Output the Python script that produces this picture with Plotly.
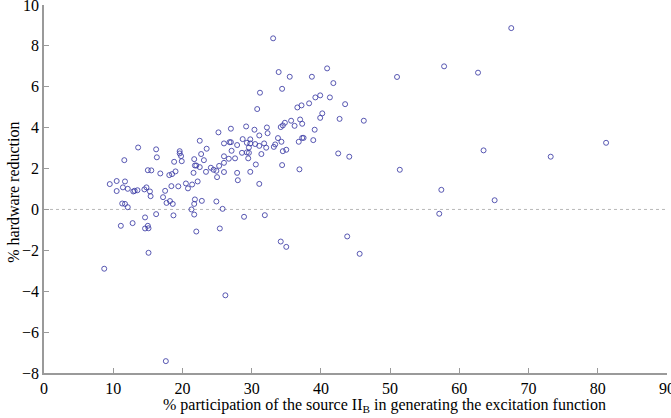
import plotly.graph_objects as go

participation = [
    67.5, 57.8, 62.7, 81.2, 63.5, 73.2, 51.4, 57.4, 65.1,
    33.1, 51.0, 33.9, 35.5, 38.7, 40.9, 41.8, 34.4, 31.2, 39.9, 39.2, 41.3, 38.3, 37.2, 36.6, 43.5,
    30.8, 40.2, 39.9, 42.7, 46.2, 35.7, 37.0, 37.3, 34.8, 34.5, 34.2, 36.2, 30.4, 32.2, 32.3, 39.1,
    31.1, 33.8, 37.3, 37.5, 38.9, 36.8, 34.3, 29.8, 29.8, 29.6, 31.1, 31.8, 32.1, 33.4, 33.2, 34.5,
    35.0, 31.4, 42.5, 44.1, 30.6, 34.4, 36.9, 29.8, 31.1, 31.9, 57.1,
    34.2, 35.0, 43.8, 45.6,
    29.2, 25.2, 27.0, 22.5, 26.8, 27.0, 28.7, 29.3, 30.5, 26.0, 27.9, 23.5, 13.6, 16.2, 19.6, 19.6,
    27.1, 28.6, 29.3, 29.6, 26.0, 22.7, 16.3, 19.8, 26.7, 27.6, 29.5, 11.6, 18.8, 19.9, 21.7, 23.1,
    21.8, 22.0, 22.5, 24.1, 24.5, 24.9, 25.3, 26.0, 15.0, 15.5, 16.8, 18.1, 18.5, 19.0, 21.6, 23.4,
    25.0, 26.0, 27.9, 28.0, 10.5, 11.7, 9.5, 11.4, 12.1, 10.5, 12.9, 13.1, 13.5, 14.5, 14.8, 15.3,
    15.4, 17.5, 17.2, 18.4, 19.4, 20.5, 20.8, 21.4, 22.2, 17.7, 18.2, 18.6, 11.3, 11.7, 12.1, 21.8,
    21.7, 22.8, 24.9, 21.3, 25.8, 14.6, 16.2, 18.7, 21.7, 28.9, 11.1, 12.8, 14.6, 15.0, 15.1, 22.0,
    25.4,
    15.1, 8.7, 26.2, 17.6,
]

reduction = [
    8.87, 7.0, 6.69, 3.26, 2.89, 2.58, 1.94, 0.96, 0.45,
    8.37, 6.48, 6.72, 6.49, 6.49, 6.9, 6.18, 5.9, 5.71, 5.58, 5.48, 5.48, 5.19, 5.09, 4.99, 5.15,
    4.91, 4.7, 4.48, 4.43, 4.34, 4.34, 4.4, 4.19, 4.24, 4.11, 4.03, 4.09, 3.9, 4.01, 3.73, 3.9,
    3.62, 3.49, 3.5, 3.5, 3.39, 3.31, 3.31, 3.43, 3.23, 3.03, 3.11, 3.23, 3.02, 3.18, 3.06, 2.85,
    2.92, 2.71, 2.74, 2.58, 2.2, 2.17, 1.96, 1.84, 1.25, -0.28, -0.21,
    -1.57, -1.83, -1.32, -2.17,
    4.06, 3.77, 3.95, 3.36, 3.29, 3.29, 3.44, 3.26, 3.2, 3.23, 3.15, 2.97, 3.03, 2.94, 2.85, 2.74,
    2.87, 2.77, 2.79, 2.77, 2.6, 2.71, 2.55, 2.61, 2.48, 2.5, 2.5, 2.41, 2.33, 2.36, 2.46, 2.41,
    2.15, 2.15, 2.07, 2.04, 1.94, 1.89, 2.13, 2.28, 1.92, 1.91, 1.76, 1.68, 1.73, 1.86, 1.79, 1.84,
    1.58, 1.83, 1.79, 1.43, 1.39, 1.37, 1.24, 1.08, 1.01, 0.9, 0.88, 0.91, 0.94, 0.98, 1.08, 0.88,
    0.65, 0.91, 0.6, 1.14, 1.13, 1.27, 1.03, 1.22, 1.37, 0.32, 0.41, 0.27, 0.29, 0.27, 0.11, 0.49,
    0.27, 0.42, 0.39, 0.0, 0.03, -0.39, -0.23, -0.29, -0.25, -0.36, -0.8, -0.67, -0.93, -0.8, -0.92, -1.08,
    -0.93,
    -2.12, -2.9, -4.2, -7.42,
]

x_ticks = [0, 10, 20, 30, 40, 50, 60, 70, 80, 90]
y_ticks = [-8, -6, -4, -2, 0, 2, 4, 6, 8, 10]

serif = "Liberation Serif"

fig = go.Figure()
fig.add_trace(go.Scatter(
    x=participation, y=reduction, mode="markers",
    marker=dict(symbol="circle-open", size=5, color="rgba(60,60,165,0.85)", line=dict(width=1)),
    showlegend=False, hoverinfo="skip",
))

fig.add_shape(type="line", xref="x", yref="y", x0=0, x1=90, y0=0, y1=0,
              line=dict(color="#b8b8b8", width=1, dash="dot"), layer="below")

axis_common = dict(
    showline=True, linecolor="#9a9a9a", linewidth=1.5, mirror=False,
    showgrid=False, zeroline=False, ticks="inside", ticklen=5, tickwidth=1,
    tickcolor="#9a9a9a", tickfont=dict(family=serif, size=16, color="black"),
    automargin=False, ticklabeloverflow="allow",
)

fig.update_layout(
    template="none",
    width=671, height=418,
    margin=dict(l=44, r=4, t=5, b=45),
    paper_bgcolor="white", plot_bgcolor="white",
    font=dict(family=serif, color="black"),
    xaxis=dict(range=[0, 90], tickvals=x_ticks, **axis_common),
    yaxis=dict(range=[-8, 10], tickvals=y_ticks, **axis_common),
    annotations=[
        dict(text="% participation of the source II<sub>B</sub> in generating the excitation function",
             xref="paper", yref="paper", x=0.546, y=-0.089, xanchor="center", yanchor="middle",
             showarrow=False, font=dict(family=serif, size=16, color="black")),
        dict(text="% hardware reduction", xref="paper", yref="paper", x=-0.048, y=0.49,
             xanchor="center", yanchor="middle", textangle=-90,
             showarrow=False, font=dict(family=serif, size=16, color="black")),
    ],
)

fig.write_html("out.html")
